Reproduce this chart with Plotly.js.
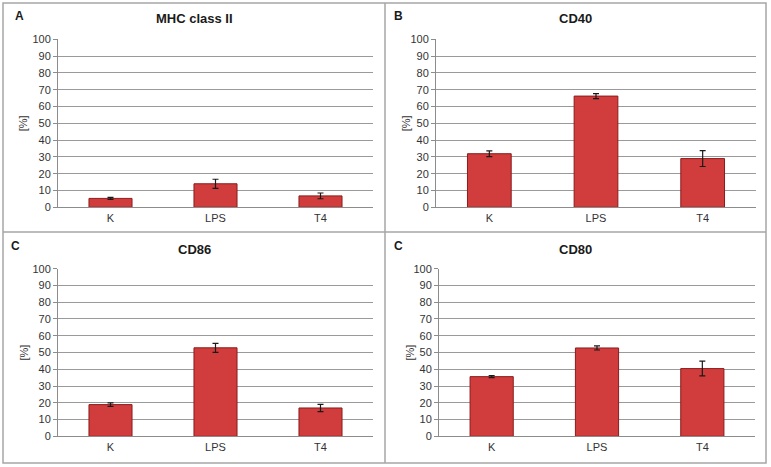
<!DOCTYPE html>
<html>
<head>
<meta charset="utf-8">
<script src="https://cdn.plot.ly/plotly-3.0.1.min.js"></script>
<style>html,body{margin:0;padding:0;background:#fff;}#chart{width:771px;height:467px;}</style>
</head>
<body>
<div id="chart"></div>
<script>
const categories = ["K", "LPS", "T4"];
const panelTitles = ["MHC class II", "CD40", "CD86", "CD80"];
const panelLetters = ["A", "B", "C", "C"];
const mhcValues = [5.3, 14.0, 6.8];
const mhcErrors = [0.6, 2.7, 1.7];
const cd40Values = [31.9, 66.2, 29.0];
const cd40Errors = [1.7, 1.5, 4.7];
const cd86Values = [18.9, 52.8, 16.9];
const cd86Errors = [1.1, 2.7, 2.2];
const cd80Values = [35.6, 52.7, 40.4];
const cd80Errors = [0.6, 1.2, 4.4];
const yTicks = [0, 10, 20, 30, 40, 50, 60, 70, 80, 90, 100];

const values = [mhcValues, cd40Values, cd86Values, cd80Values];
const errors = [mhcErrors, cd40Errors, cd86Errors, cd80Errors];

const W = 771, H = 467;
const px = v => v / W;
const py = v => 1 - v / H;

// plot areas in pixels [x0, x1, yTop, yBottom]
const areas = [
  [58, 373, 39.3, 207.3],
  [436, 756, 39.3, 207.3],
  [58, 373, 268.7, 436.3],
  [439, 755, 268.7, 436.3]
];
const titlePos = [[194, 19], [575.5, 19], [194, 249], [575.5, 249]];
const letterPos = [[19, 16], [398, 16], [15, 246], [398, 246]];
const ytitleX = [23, 406, 23, 409];

const traces = [];
const layout = {
  width: W, height: H,
  margin: {l: 0, r: 0, t: 0, b: 0},
  paper_bgcolor: '#ffffff',
  plot_bgcolor: '#ffffff',
  showlegend: false,
  bargap: 0.59,
  font: {family: 'Arial, "Liberation Sans", sans-serif', color: '#333333', size: 11},
  annotations: [],
  shapes: []
};

for (let i = 0; i < 4; i++) {
  const sx = i === 0 ? '' : String(i + 1);
  traces.push({
    type: 'bar',
    x: categories,
    y: values[i],
    xaxis: 'x' + sx,
    yaxis: 'y' + sx,
    marker: {color: '#d13c3c', line: {color: '#8a1c1c', width: 1}},
    error_y: {type: 'data', array: errors[i], visible: true, color: '#1a1a1a', thickness: 1.2, width: 3},
    hoverinfo: 'x+y'
  });
  const a = areas[i];
  layout['xaxis' + sx] = {
    domain: [px(a[0]), px(a[1])],
    anchor: 'y' + sx,
    showline: true, linecolor: '#8c8c8c', linewidth: 1,
    ticks: '', showgrid: false,
    tickfont: {size: 11, color: '#333333'},
    fixedrange: true
  };
  layout['yaxis' + sx] = {
    domain: [py(a[3]), py(a[2])],
    anchor: 'x' + sx,
    range: [0, 100],
    tickvals: yTicks,
    showline: true, linecolor: '#8c8c8c', linewidth: 1,
    ticks: 'outside', ticklen: 4, tickcolor: '#8c8c8c',
    showgrid: true, gridcolor: '#9a9a9a', gridwidth: 1,
    zeroline: false,
    tickfont: {size: 11, color: '#333333'},
    fixedrange: true
  };
  layout.annotations.push({
    xref: 'paper', yref: 'paper', x: px(titlePos[i][0]), y: py(titlePos[i][1]),
    text: '<b>' + panelTitles[i] + '</b>', showarrow: false,
    xanchor: 'center', yanchor: 'middle',
    font: {size: 13, color: '#1a1a1a'}
  });
  layout.annotations.push({
    xref: 'paper', yref: 'paper', x: px(letterPos[i][0]), y: py(letterPos[i][1]),
    text: '<b>' + panelLetters[i] + '</b>', showarrow: false,
    xanchor: 'center', yanchor: 'middle',
    font: {size: 12, color: '#1a1a1a'}
  });
  layout.annotations.push({
    xref: 'paper', yref: 'paper', x: px(ytitleX[i]), y: py((a[2] + a[3]) / 2),
    text: '[%]', showarrow: false, textangle: -90,
    xanchor: 'center', yanchor: 'middle',
    font: {size: 11, color: '#333333'}
  });
}

// panel borders
const borderColor = '#a6a6a6';
layout.shapes.push(
  {type: 'rect', xref: 'paper', yref: 'paper', x0: px(3), x1: px(766), y0: py(463), y1: py(3), line: {color: borderColor, width: 1.5}},
  {type: 'line', xref: 'paper', yref: 'paper', x0: px(385), x1: px(385), y0: py(463), y1: py(3), line: {color: borderColor, width: 1.5}},
  {type: 'line', xref: 'paper', yref: 'paper', x0: px(3), x1: px(766), y0: py(232), y1: py(232), line: {color: borderColor, width: 1.5}}
);

Plotly.newPlot('chart', traces, layout, {displayModeBar: false, staticPlot: true});
</script>
</body>
</html>
